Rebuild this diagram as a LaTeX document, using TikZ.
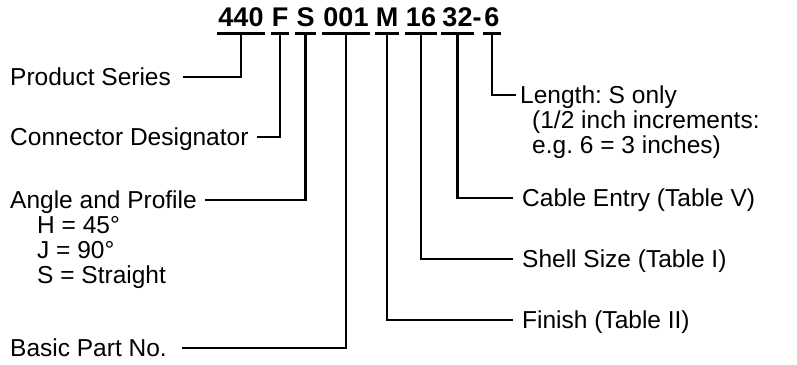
\documentclass[tikz,border=0pt]{standalone}
\usepackage{fontspec}
\setmainfont{Liberation Sans}
\frenchspacing
\tikzset{
  code/.style={font=\fontsize{27}{27}\selectfont\bfseries, inner sep=0pt, anchor=base},
  lbl/.style={font=\fontsize{24.5}{24.5}\selectfont, inner sep=0pt, anchor=west, text height=17.5pt, text depth=0pt},
  lead/.style={line width=2.8pt},
}
\begin{document}
\begin{tikzpicture}[x=1pt,y=-1pt]
\useasboundingbox (0,0) rectangle (797,364);
% part number
\node[code] (c440) at (241,27) {440};
\node[code] (cF) at (280,27) {F};
\node[code] (cS) at (305.5,27) {S};
\node[code] (c001) at (346,27) {001};
\node[code] (cM) at (387,27) {M};
\node[code] (c16) at (421,27) {16};
\node[code] (c32) at (457.5,27) {32};
\node[code] (cdash) at (477,27) {-};
\node[code] (c6) at (492,27) {6};
\foreach \c in {440,F,S,001,M,16,32,6}
  \draw[lead] ([xshift=-1pt,yshift=-6pt]c\c.south west) -- ([xshift=1pt,yshift=-6pt]c\c.south east);
% left side
\node[lbl] (prod) at (10,77) {Product Series};
\node[lbl] (conn) at (10,137) {Connector Designator};
\node[lbl] (angle) at (10,200) {Angle and Profile};
\node[lbl] (angH) at (37,225) {H = 45°};
\node[lbl] (angJ) at (37,250) {J = 90°};
\node[lbl] (angS) at (37,275) {S = Straight};
\node[lbl] (basic) at (10,348) {Basic Part No.};
% right side
\node[lbl] (len) at (520,95) {Length: S only};
\node[lbl] (len2) at (532,120) {(1/2 inch increments:};
\node[lbl] (len3) at (532,145) {e.g. 6 = 3 inches)};
\node[lbl] (cable) at (522,198) {Cable Entry (Table V)};
\node[lbl] (shell) at (522,259) {Shell Size (Table I)};
\node[lbl] (finish) at (522,320) {Finish (Table II)};
% leaders
\draw[lead] ([yshift=-6pt]c440.south) |- ([xshift=12pt]prod.east);
\draw[lead] ([yshift=-6pt]cF.south) |- ([xshift=8pt]conn.east);
\draw[lead] ([yshift=-6pt]cS.south) |- ([xshift=8pt]angle.east);
\draw[lead] ([yshift=-6pt]c001.south) |- ([xshift=15pt]basic.east);
\draw[lead] ([yshift=-6pt]cM.south) |- ([xshift=-9pt]finish.west);
\draw[lead] ([yshift=-6pt]c16.south) |- ([xshift=-9pt]shell.west);
\draw[lead] ([yshift=-6pt]c32.south) |- ([xshift=-9pt]cable.west);
\draw[lead] ([yshift=-6pt]c6.south) |- ([xshift=-4pt]len.west);
\end{tikzpicture}
\end{document}
